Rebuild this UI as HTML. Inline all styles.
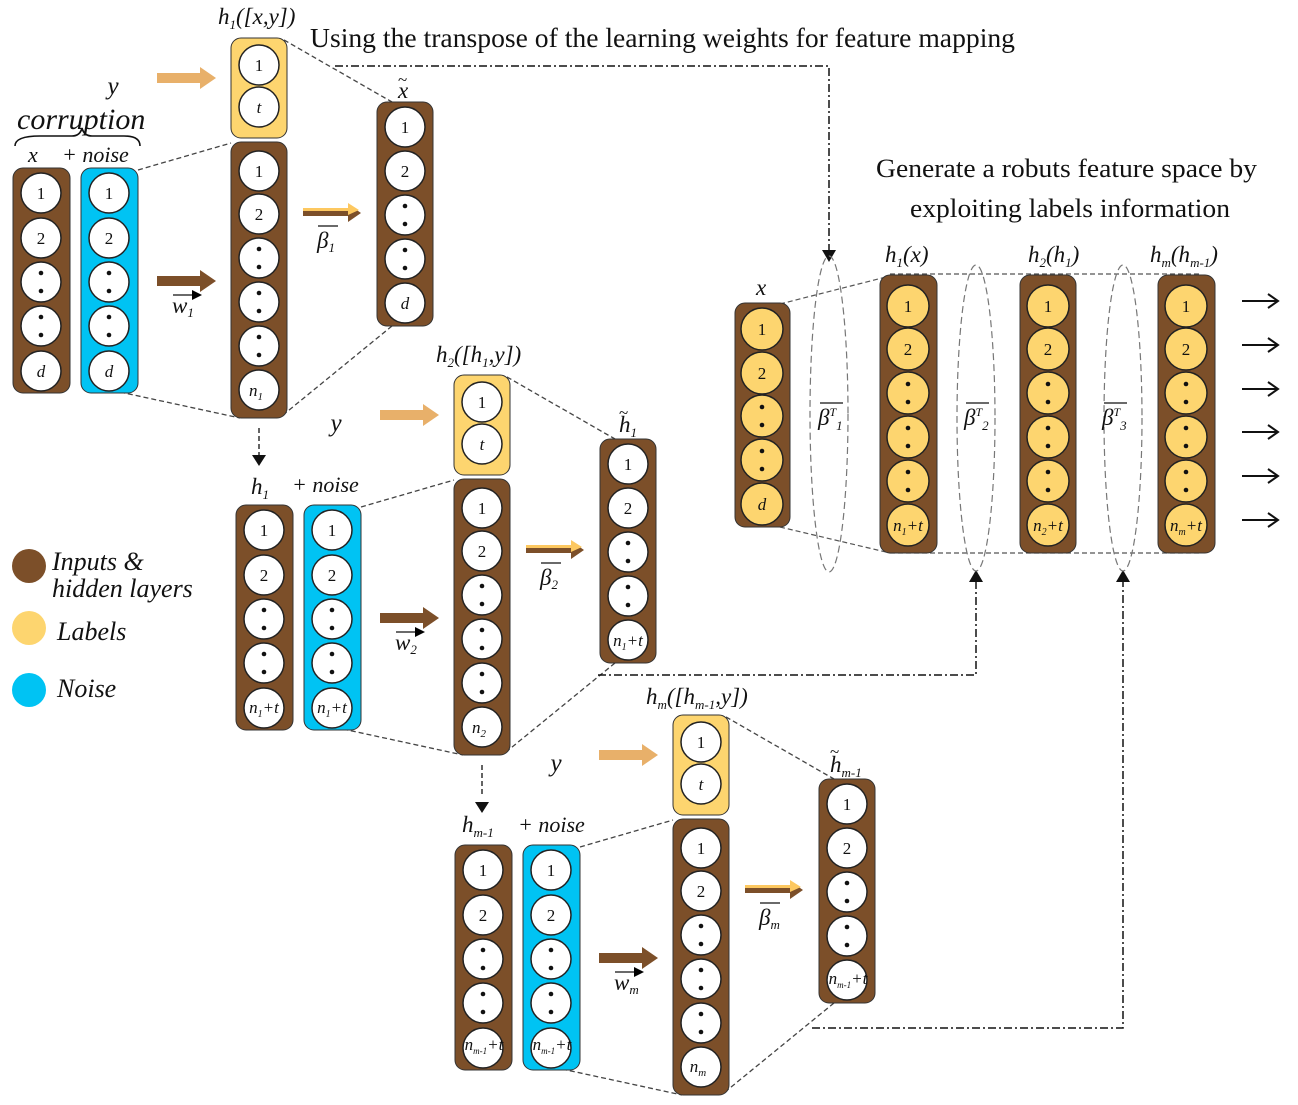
<!DOCTYPE html>
<html><head><meta charset="utf-8"><style>
html,body{margin:0;padding:0;background:#fff}
svg{display:block}
.t{font-family:"Liberation Serif",serif;fill:#111}
.i{font-family:"Liberation Serif",serif;font-style:italic;fill:#111}
.n{font-family:"Liberation Serif",serif;font-size:17px;fill:#111;text-anchor:middle}
.ni{font-family:"Liberation Serif",serif;font-style:italic;font-size:17px;fill:#111;text-anchor:middle}
</style></head><body>
<svg width="1298" height="1105" viewBox="0 0 1298 1105" xmlns="http://www.w3.org/2000/svg">
<defs>
<g id="c"><circle r="20" fill="#fff" stroke="#222" stroke-width="1.5"/></g>
<g id="cd"><circle r="20" fill="#fff" stroke="#222" stroke-width="1.5"/><circle cy="-9" r="2.3" fill="#111"/><circle cy="9" r="2.3" fill="#111"/></g>
<g id="y"><circle r="21" fill="#fdd56f" stroke="#222" stroke-width="1.5"/></g>
<g id="yd"><circle r="21" fill="#fdd56f" stroke="#222" stroke-width="1.5"/><circle cy="-9" r="2.3" fill="#111"/><circle cy="9" r="2.3" fill="#111"/></g>
<marker id="ah" markerWidth="10" markerHeight="10" refX="5" refY="5" orient="auto" markerUnits="userSpaceOnUse"><path d="M0,0 L10,5 L0,10z" fill="#000"/></marker>
<g id="blk">
 <g stroke="#444" stroke-width="1.3" stroke-dasharray="5,3" fill="none">
  <line x1="138" y1="170" x2="231" y2="143"/>
  <line x1="120" y1="392" x2="240" y2="418"/>
  <line x1="284" y1="40" x2="392" y2="102"/>
  <line x1="392" y1="326" x2="283" y2="415"/>
 </g>
 <rect x="13" y="168" width="57" height="225" rx="10" fill="#7c4f29" stroke="#333"/>
 <rect x="81" y="168" width="57" height="225" rx="10" fill="#00c3f3" stroke="#333"/>
 <rect x="231" y="38" width="56" height="100" rx="10" fill="#fdd56f" stroke="#333"/>
 <rect x="231" y="142" width="56" height="276" rx="10" fill="#7c4f29" stroke="#333"/>
 <rect x="377" y="102" width="56" height="224" rx="10" fill="#7c4f29" stroke="#333"/>
 <use href="#c" x="41" y="193"/><use href="#c" x="41" y="238"/><use href="#cd" x="41" y="282"/><use href="#cd" x="41" y="326"/><use href="#c" x="41" y="371"/>
 <use href="#c" x="109" y="193"/><use href="#c" x="109" y="238"/><use href="#cd" x="109" y="282"/><use href="#cd" x="109" y="326"/><use href="#c" x="109" y="371"/>
 <use href="#c" x="259" y="65"/><use href="#c" x="259" y="107"/>
 <use href="#c" x="259" y="171"/><use href="#c" x="259" y="214"/><use href="#cd" x="259" y="258"/><use href="#cd" x="259" y="302"/><use href="#cd" x="259" y="346"/><use href="#c" x="259" y="390"/>
 <use href="#c" x="405" y="127"/><use href="#c" x="405" y="171"/><use href="#cd" x="405" y="215"/><use href="#cd" x="405" y="259"/><use href="#c" x="405" y="303"/>
 <path d="M157,73 H200 V67 L216,78 L200,89 V83 H157z" fill="#e8b06a"/>
 <path d="M157,276 H200 V270 L216,281 L200,292 V286 H157z" fill="#7c4f29"/>
 <path d="M303,210 H348 V204 L361,213 L348,222 V216 H303z" fill="#7c4f29"/>
 <path d="M303,208 H348 V203 L359,210 L348,215 V211 H303z" fill="#fdc860"/>
 <text class="n" x="41" y="199">1</text><text class="n" x="41" y="244">2</text>
 <text class="n" x="109" y="199">1</text><text class="n" x="109" y="244">2</text>
 <text class="n" x="259" y="71">1</text><text class="ni" x="259" y="113">t</text>
 <text class="n" x="259" y="177">1</text><text class="n" x="259" y="220">2</text>
 <text class="n" x="405" y="133">1</text><text class="n" x="405" y="177">2</text>
</g>
</defs>

<!-- Block 1 -->
<use href="#blk"/>
<text class="ni" x="41" y="377">d</text><text class="ni" x="109" y="377">d</text>
<text class="ni" x="256" y="396">n<tspan font-size="11" dy="4">1</tspan></text>
<text class="ni" x="405" y="309">d</text>
<text class="i" x="218" y="24" font-size="23">h<tspan font-size="13" dy="5">1</tspan><tspan dy="-5">([x,y])</tspan></text>
<text class="i" x="113" y="94" font-size="25" text-anchor="middle">y</text>
<text class="i" x="17" y="129" font-size="30">corruption</text>
<path d="M15,146 Q15,136 40,136 L72,136 Q80,136 82,128 Q84,136 92,136 L124,136 Q140,136 140,146" fill="none" stroke="#111" stroke-width="1.6"/>
<text class="i" x="28" y="162" font-size="22">x</text>
<text class="i" x="62" y="162" font-size="22">+ noise</text>
<text class="i" x="172" y="313" font-size="23">w<tspan font-size="13" dy="4">1</tspan></text>
<line x1="173" y1="295" x2="197" y2="295" stroke="#111" stroke-width="1.2" marker-end="url(#ah)"/>
<text class="i" x="317" y="248" font-size="23">β<tspan font-size="13" dy="4">1</tspan></text>
<line x1="318" y1="226" x2="338" y2="226" stroke="#111" stroke-width="1.2"/>
<text class="i" x="398" y="98" font-size="23">x</text><text class="t" x="398" y="85" font-size="17">~</text>
<line x1="259" y1="428" x2="259" y2="456" stroke="#111" stroke-width="1.3" stroke-dasharray="5,3"/>
<path d="M252,455 L266,455 L259,466z" fill="#111"/>

<!-- Block 2 -->
<use href="#blk" x="223" y="337"/>
<text class="ni" x="264" y="713">n<tspan font-size="10" dy="4">1</tspan><tspan dy="-4">+t</tspan></text>
<text class="ni" x="332" y="713">n<tspan font-size="10" dy="4">1</tspan><tspan dy="-4">+t</tspan></text>
<text class="ni" x="479" y="733">n<tspan font-size="11" dy="4">2</tspan></text>
<text class="ni" x="628" y="646">n<tspan font-size="10" dy="4">1</tspan><tspan dy="-4">+t</tspan></text>
<text class="i" x="436" y="362" font-size="23">h<tspan font-size="13" dy="5">2</tspan><tspan dy="-5">([h</tspan><tspan font-size="13" dy="5">1</tspan><tspan dy="-5">,y])</tspan></text>
<text class="i" x="336" y="431" font-size="25" text-anchor="middle">y</text>
<text class="i" x="251" y="494" font-size="23">h<tspan font-size="13" dy="5">1</tspan></text>
<text class="i" x="292" y="492" font-size="22">+ noise</text>
<text class="i" x="395" y="650" font-size="23">w<tspan font-size="13" dy="4">2</tspan></text>
<line x1="396" y1="632" x2="420" y2="632" stroke="#111" stroke-width="1.2" marker-end="url(#ah)"/>
<text class="i" x="540" y="585" font-size="23">β<tspan font-size="13" dy="4">2</tspan></text>
<line x1="541" y1="563" x2="561" y2="563" stroke="#111" stroke-width="1.2"/>
<text class="i" x="619" y="432" font-size="23">h<tspan font-size="13" dy="5">1</tspan></text><text class="t" x="619" y="418" font-size="17">~</text>
<line x1="482" y1="765" x2="482" y2="795" stroke="#111" stroke-width="1.3" stroke-dasharray="5,3"/>
<path d="M475,802 L489,802 L482,813z" fill="#111"/>

<!-- Block 3 -->
<use href="#blk" x="442" y="677"/>
<text class="ni" x="484" y="1050" font-size="14">n<tspan font-size="9" dy="4">m-1</tspan><tspan dy="-4">+t</tspan></text>
<text class="ni" x="552" y="1050" font-size="14">n<tspan font-size="9" dy="4">m-1</tspan><tspan dy="-4">+t</tspan></text>
<text class="ni" x="698" y="1072">n<tspan font-size="11" dy="4">m</tspan></text>
<text class="ni" x="848" y="984" font-size="13">n<tspan font-size="9" dy="4">m-1</tspan><tspan dy="-4">+t</tspan></text>
<text class="i" x="646" y="704" font-size="23">h<tspan font-size="13" dy="5">m</tspan><tspan dy="-5">([h</tspan><tspan font-size="13" dy="5">m-1</tspan><tspan dy="-5">,y])</tspan></text>
<text class="i" x="556" y="771" font-size="25" text-anchor="middle">y</text>
<text class="i" x="462" y="832" font-size="23">h<tspan font-size="13" dy="5">m-1</tspan></text>
<text class="i" x="518" y="832" font-size="22">+ noise</text>
<text class="i" x="614" y="990" font-size="23">w<tspan font-size="13" dy="4">m</tspan></text>
<line x1="615" y1="972" x2="639" y2="972" stroke="#111" stroke-width="1.2" marker-end="url(#ah)"/>
<text class="i" x="759" y="925" font-size="23">β<tspan font-size="13" dy="4">m</tspan></text>
<line x1="760" y1="903" x2="780" y2="903" stroke="#111" stroke-width="1.2"/>
<text class="i" x="830" y="772" font-size="23">h<tspan font-size="13" dy="5">m-1</tspan></text><text class="t" x="830" y="757" font-size="17">~</text>

<!-- Legend -->
<circle cx="29" cy="566" r="17" fill="#7c4f29"/>
<circle cx="29" cy="628" r="17" fill="#fdd56f"/>
<circle cx="29" cy="690" r="17" fill="#00c3f3"/>
<text class="i" x="52" y="570" font-size="26">Inputs &amp;</text>
<text class="i" x="52" y="597" font-size="26">hidden layers</text>
<text class="i" x="57" y="640" font-size="26">Labels</text>
<text class="i" x="57" y="697" font-size="26">Noise</text>

<!-- Titles -->
<text class="t" x="310" y="47" font-size="27" textLength="705" lengthAdjust="spacingAndGlyphs">Using the transpose of the learning weights for feature mapping</text>
<text class="t" x="876" y="177" font-size="26" textLength="381" lengthAdjust="spacingAndGlyphs">Generate a robuts feature space by</text>
<text class="t" x="910" y="217" font-size="26" textLength="320" lengthAdjust="spacingAndGlyphs">exploiting labels information</text>

<!-- feedback connectors -->
<g stroke="#111" stroke-width="1.5" stroke-dasharray="8,3,2,3" fill="none">
 <polyline points="335,66 829,66 829,250"/>
 <polyline points="598,675 976,675 976,582"/>
 <polyline points="812,1028 1123,1028 1123,582"/>
</g>
<path d="M822,250 L836,250 L829,262z" fill="#111"/>
<path d="M969,582 L983,582 L976,570z" fill="#111"/>
<path d="M1116,582 L1130,582 L1123,570z" fill="#111"/>

<!-- Right side network -->
<g stroke="#555" stroke-width="1.2" stroke-dasharray="5,3" fill="none">
 <line x1="780" y1="304" x2="890" y2="276"/>
 <line x1="780" y1="527" x2="890" y2="553"/>
 <line x1="890" y1="274" x2="1200" y2="274"/>
 <line x1="890" y1="553" x2="1200" y2="553"/>
</g>
<g stroke="#777" stroke-width="1.2" stroke-dasharray="7,4" fill="none">
 <ellipse cx="829" cy="414" rx="19" ry="158"/>
 <ellipse cx="976" cy="418" rx="19" ry="153"/>
 <ellipse cx="1123" cy="418" rx="19" ry="153"/>
</g>
<rect x="735" y="303" width="55" height="224" rx="10" fill="#7c4f29" stroke="#333"/>
<rect x="880" y="275" width="57" height="278" rx="10" fill="#7c4f29" stroke="#333"/>
<rect x="1020" y="275" width="56" height="278" rx="10" fill="#7c4f29" stroke="#333"/>
<rect x="1158" y="275" width="57" height="278" rx="10" fill="#7c4f29" stroke="#333"/>
<use href="#y" x="762" y="329"/><use href="#y" x="762" y="373"/><use href="#yd" x="762" y="416"/><use href="#yd" x="762" y="460"/><use href="#y" x="762" y="504"/>
<use href="#y" x="908" y="306"/><use href="#y" x="908" y="349"/><use href="#yd" x="908" y="393"/><use href="#yd" x="908" y="437"/><use href="#yd" x="908" y="481"/><use href="#y" x="908" y="525"/>
<use href="#y" x="1048" y="306"/><use href="#y" x="1048" y="349"/><use href="#yd" x="1048" y="393"/><use href="#yd" x="1048" y="437"/><use href="#yd" x="1048" y="481"/><use href="#y" x="1048" y="525"/>
<use href="#y" x="1186" y="306"/><use href="#y" x="1186" y="349"/><use href="#yd" x="1186" y="393"/><use href="#yd" x="1186" y="437"/><use href="#yd" x="1186" y="481"/><use href="#y" x="1186" y="525"/>
<text class="n" x="762" y="335">1</text><text class="n" x="762" y="379">2</text><text class="ni" x="762" y="510">d</text>
<text class="n" x="908" y="312">1</text><text class="n" x="908" y="355">2</text>
<text class="n" x="1048" y="312">1</text><text class="n" x="1048" y="355">2</text>
<text class="n" x="1186" y="312">1</text><text class="n" x="1186" y="355">2</text>
<text class="ni" x="908" y="531">n<tspan font-size="10" dy="4">1</tspan><tspan dy="-4">+t</tspan></text>
<text class="ni" x="1048" y="531">n<tspan font-size="10" dy="4">2</tspan><tspan dy="-4">+t</tspan></text>
<text class="ni" x="1186" y="531">n<tspan font-size="10" dy="4">m</tspan><tspan dy="-4">+t</tspan></text>
<text class="i" x="756" y="295" font-size="23">x</text>
<text class="i" x="885" y="262" font-size="23">h<tspan font-size="13" dy="5">1</tspan><tspan dy="-5">(x)</tspan></text>
<text class="i" x="1028" y="262" font-size="23">h<tspan font-size="13" dy="5">2</tspan><tspan dy="-5">(h</tspan><tspan font-size="13" dy="5">1</tspan><tspan dy="-5">)</tspan></text>
<text class="i" x="1150" y="262" font-size="23">h<tspan font-size="13" dy="5">m</tspan><tspan dy="-5">(h</tspan><tspan font-size="13" dy="5">m-1</tspan><tspan dy="-5">)</tspan></text>
<text class="i" x="818" y="425" font-size="23">β<tspan font-size="12" dy="-9">T</tspan><tspan font-size="13" dy="14">1</tspan></text>
<text class="i" x="964" y="425" font-size="23">β<tspan font-size="12" dy="-9">T</tspan><tspan font-size="13" dy="14">2</tspan></text>
<text class="i" x="1102" y="425" font-size="23">β<tspan font-size="12" dy="-9">T</tspan><tspan font-size="13" dy="14">3</tspan></text>
<g stroke="#111" stroke-width="1.2"><line x1="820" y1="403" x2="843" y2="403"/><line x1="966" y1="403" x2="989" y2="403"/><line x1="1104" y1="403" x2="1127" y2="403"/></g>
<g stroke="#111" stroke-width="2" fill="none">
<path d="M1242,301 H1278 M1268,294 L1278,301 L1268,308"/>
<path d="M1242,345 H1278 M1268,338 L1278,345 L1268,352"/>
<path d="M1242,389 H1278 M1268,382 L1278,389 L1268,396"/>
<path d="M1242,432 H1278 M1268,425 L1278,432 L1268,439"/>
<path d="M1242,476 H1278 M1268,469 L1278,476 L1268,483"/>
<path d="M1242,520 H1278 M1268,513 L1278,520 L1268,527"/>
</g>
</svg>
</body></html>
